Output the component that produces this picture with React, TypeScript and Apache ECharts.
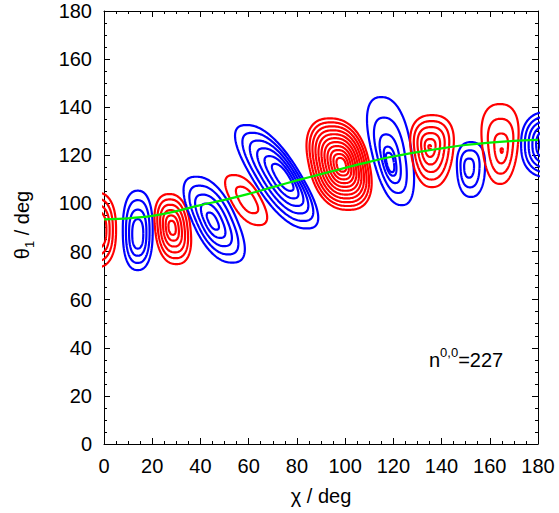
import React, { useEffect, useRef } from 'react';
import * as echarts from 'echarts';

// Green reference curve
const greenChi = [0, 10, 20, 30, 40, 50, 60, 70, 80, 90, 100, 110, 120, 130, 140, 150, 160, 170, 180];
const greenTheta = [93.4, 93.8, 94.8, 96.8, 99.3, 101.5, 104, 106.8, 109.6, 112.2, 114.8, 117.3, 119.5, 121.3, 122.9, 124.3, 125.3, 126, 126.4];

// Contour lobes (1 = red / positive, -1 = blue / negative)
const lobeSign = [1, -1, 1, -1, 1, -1, 1, -1, 1, -1, 1, -1];
const lobeChi = [-3, 14, 28.2, 45, 59.75, 75, 98.6, 118.6, 135, 151, 165, 184];
const lobeTheta = [89, 86.5, 90, 92.5, 101.5, 110.75, 116, 116, 123.5, 115, 121.8, 124.5];
const lobeHalfW = [8, 6.2, 7.35, 9.4, 6.4, 10.5, 12.6, 8.3, 8.75, 5.8, 7.45, 11];
const lobeHalfH = [15.5, 16.5, 14.55, 17.85, 10.4, 21.5, 19, 22.45, 14.95, 11.4, 16.6, 13.5];
const lobeShear = [0, 0, -0.1, -0.42, -0.5, -0.58, -0.2, -0.19, 0, 0, 0, 0];
const lobeTaper = [0, 0, 0, 0, 0, 0, 0, 0.1, 0.2, 0.1, 0.2, 0];
const lobeShiftChi = [0, 0, 0.35, 0.7, -0.8, -3.4, -1.1, 0.65, 1.05, 1.2, -0.75, 0];
const lobeShiftTheta = [0, 2.3, -0.65, 0.75, -0.1, 0.35, 0.35, 5.75, -1.75, -0.9, 2.9, 0];
const lobeRings = [4, 4, 6, 5, 2, 6, 11, 5, 6, 3, 4, 7];
const lobeInner = [0.5, 0.37, 0.2, 0.2, 0.53, 0.26, 0.15, 0.18, 0.06, 0.35, 0.06, 0.15];
const lobeGamma = [1, 1, 1, 1, 1, 1, 1, 1.6, 1, 1, 1, 1];

const FONT = '"Liberation Sans", Arial, Helvetica, sans-serif';

function ringPoints(k: number, i: number): number[][] {
  const n = lobeRings[k];
  const t = n === 1 ? 1 : i / (n - 1);
  const f = lobeInner[k] + (1 - lobeInner[k]) * Math.pow(t, lobeGamma[k]);
  const cx = lobeChi[k] + lobeShiftChi[k] * f;
  const cy = lobeTheta[k] + lobeShiftTheta[k] * f;
  const rx = lobeHalfW[k] * f;
  const ry = lobeHalfH[k] * f;
  const pts: number[][] = [];
  const N = 160;
  const p = 2.4;
  for (let j = 0; j <= N; j++) {
    const a = (2 * Math.PI * j) / N;
    const c = Math.cos(a);
    const s = Math.sin(a);
    const u = Math.sign(c) * Math.pow(Math.abs(c), 2 / p);
    const v = Math.sign(s) * Math.pow(Math.abs(s), 2 / p);
    const w = rx * (1 + lobeTaper[k] * v) * u;
    pts.push([cx + w + lobeShear[k] * ry * v, cy + ry * v]);
  }
  return pts;
}

export default function App() {
  const ref = useRef<HTMLDivElement>(null);
  useEffect(() => {
    if (!ref.current) return;
    const chart = echarts.init(ref.current, undefined, { renderer: 'svg' });
    const series: any[] = [];
    for (let k = 0; k < lobeSign.length; k++) {
      for (let i = 0; i < lobeRings[k]; i++) {
        series.push({
          type: 'line',
          data: ringPoints(k, i),
          showSymbol: false,
          symbol: 'none',
          clip: true,
          silent: true,
          lineStyle: { color: lobeSign[k] > 0 ? '#ff0000' : '#0000ff', width: 2.2 },
          z: 2,
        });
      }
    }
    series.push({
      type: 'line',
      data: greenChi.map((c, i) => [c, greenTheta[i]]),
      showSymbol: false,
      symbol: 'none',
      smooth: 0.3,
      clip: true,
      silent: true,
      lineStyle: { color: '#00ee00', width: 2.2 },
      z: 3,
    });
    const axisCommon = {
      type: 'value',
      min: 0,
      max: 180,
      interval: 20,
      axisLine: { show: true, onZero: false, lineStyle: { color: '#000', width: 1 } },
      axisTick: { show: true, inside: true, length: 6, lineStyle: { color: '#000', width: 1 } },
      minorTick: { show: true, splitNumber: 4, length: 3, lineStyle: { color: '#000', width: 1 } },
      splitLine: { show: false },
      minorSplitLine: { show: false },
    };
    chart.setOption({
      animation: false,
      backgroundColor: '#fff',
      grid: { left: 104, right: 21, top: 11, bottom: 69, containLabel: false },
      xAxis: [
        {
          ...axisCommon,
          position: 'bottom',
          axisLabel: { fontSize: 20, color: '#000', margin: 12, fontFamily: FONT },
        },
        { ...axisCommon, position: 'top', axisLabel: { show: false } },
      ],
      yAxis: [
        {
          ...axisCommon,
          position: 'left',
          axisLabel: { fontSize: 20, color: '#000', margin: 12, fontFamily: FONT },
        },
        { ...axisCommon, position: 'right', axisLabel: { show: false } },
      ],
      graphic: [
        {
          type: 'text',
          x: 22,
          y: 225,
          rotation: Math.PI / 2,
          style: {
            text: '{a|θ}{b|1}{a| / deg}',
            align: 'center',
            verticalAlign: 'middle',
            fill: '#000',
            rich: {
              a: { fontSize: 20, lineHeight: 28, fontFamily: FONT, fill: '#000' },
              b: { fontSize: 13, lineHeight: 13, fontFamily: FONT, fill: '#000', verticalAlign: 'bottom' },
            },
          },
        },
        {
          type: 'text',
          x: 321,
          y: 496,
          style: {
            text: 'χ / deg',
            align: 'center',
            verticalAlign: 'middle',
            fontSize: 20,
            fontFamily: FONT,
            fill: '#000',
          },
        },
        {
          type: 'text',
          x: 429,
          y: 360,
          style: {
            text: '{a|n}{b|0,0}{a|=227}',
            align: 'left',
            verticalAlign: 'middle',
            fill: '#000',
            rich: {
              a: { fontSize: 20, lineHeight: 28, fontFamily: FONT, fill: '#000' },
              b: { fontSize: 13, lineHeight: 13, fontFamily: FONT, fill: '#000', verticalAlign: 'top' },
            },
          },
        },
      ],
      series,
    });
    return () => chart.dispose();
  }, []);
  return <div ref={ref} style={{ position: 'absolute', left: 0, top: 0, width: 559, height: 513 }} />;
}
